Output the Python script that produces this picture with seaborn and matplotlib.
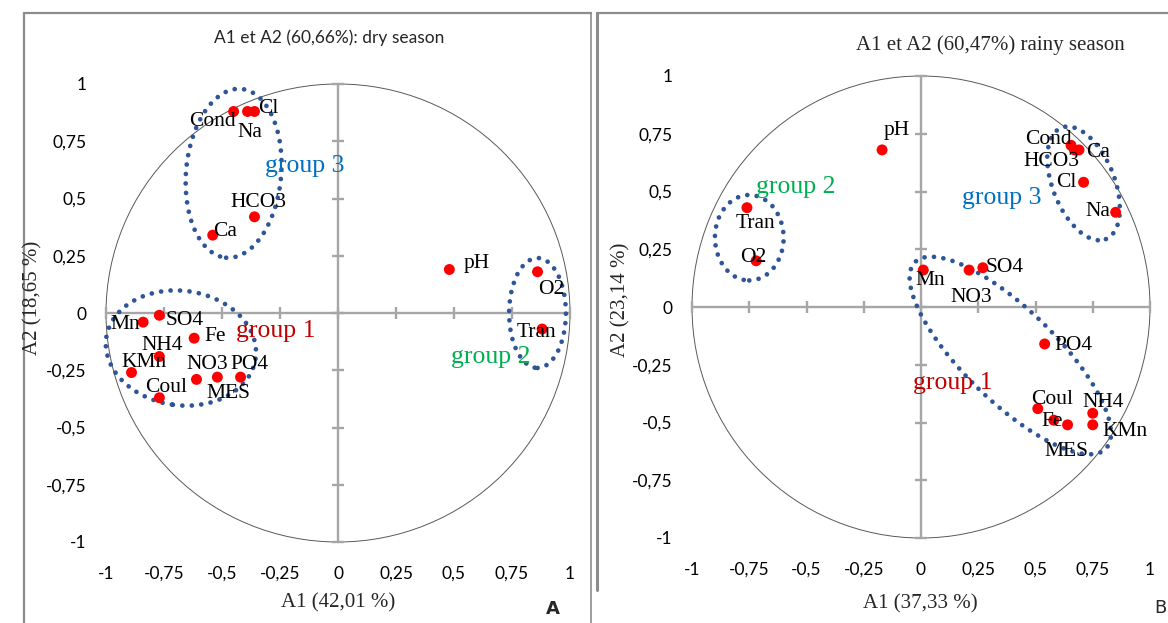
import matplotlib
matplotlib.use("Agg")
import matplotlib.pyplot as plt
import seaborn as sns
import pandas as pd
from matplotlib.patches import Circle, Ellipse
from matplotlib.lines import Line2D

# ---- correlation loadings on the first two factorial axes ----
dry_vars = ["Cond", "Na", "Cl", "HCO3", "Ca", "pH", "O2", "Tran", "Mn", "SO4",
            "Fe", "NH4", "KMn", "NO3", "MES", "PO4", "Coul"]
dry_a1 = [-0.45, -0.39, -0.36, -0.36, -0.54, 0.48, 0.86, 0.88, -0.84, -0.77,
          -0.62, -0.77, -0.89, -0.61, -0.52, -0.42, -0.77]
dry_a2 = [0.88, 0.88, 0.88, 0.42, 0.34, 0.19, 0.18, -0.07, -0.04, -0.01,
          -0.11, -0.19, -0.26, -0.29, -0.28, -0.28, -0.37]

rainy_vars = ["pH", "Cond", "HCO3", "Ca", "Cl", "Na", "Mn", "NO3", "SO4", "Tran",
              "O2", "PO4", "Coul", "NH4", "Fe", "KMn", "MES"]
rainy_a1 = [-0.17, 0.655, 0.67, 0.69, 0.71, 0.85, 0.01, 0.21, 0.27, -0.76,
            -0.72, 0.54, 0.51, 0.75, 0.58, 0.75, 0.64]
rainy_a2 = [0.68, 0.70, 0.68, 0.68, 0.54, 0.41, 0.16, 0.16, 0.17, 0.43,
            0.20, -0.16, -0.44, -0.46, -0.49, -0.51, -0.51]

tick_values = [-1, -0.75, -0.5, -0.25, 0, 0.25, 0.5, 0.75, 1]
tick_labels = ["-1", "-0,75", "-0,5", "-0,25", "0", "0,25", "0,5", "0,75", "1"]

group_names = ["group 1", "group 2", "group 3"]
group_colors = {"group 1": "#C00000", "group 2": "#00B050", "group 3": "#0070C0"}

# label offsets in pixels (dx to the right, dy downward)
dry_offsets = {
    "Cond": (-21, 10), "Na": (2, 21), "Cl": (14, -3), "HCO3": (4, -14),
    "Ca": (12, -4), "pH": (27, -6), "O2": (14, 18), "Tran": (-6, 3),
    "Mn": (-18, 2), "SO4": (25, 5), "Fe": (21, -2), "NH4": (3, -11),
    "KMn": (12, -10), "NO3": (11, -15), "MES": (11, 16), "PO4": (9, -13),
    "Coul": (7, -10),
}
rainy_offsets = {
    "pH": (15, -19), "Cond": (-23, -6), "HCO3": (-23, 12), "Ca": (19, 3),
    "Cl": (-17, 0), "Na": (-18, -1), "Mn": (7, 10), "NO3": (2, 27),
    "SO4": (22, 0), "Tran": (8, 16), "O2": (-3, -3), "PO4": (29, 2),
    "Coul": (14, -9), "NH4": (10, -11), "Fe": (-2, 1), "KMn": (32, 7),
    "MES": (-1, 27),
}

# group outlines: (center, width, height, angle) and label anchor
dry_groups = {
    "group 3": ((-0.45, 0.61), 0.41, 0.74, -5, (-0.315, 0.64)),
    "group 1": ((-0.677, -0.153), 0.65, 0.50, -8, (-0.44, -0.08)),
    "group 2": ((0.86, 0.0), 0.245, 0.48, 0, (0.487, -0.19)),
}
rainy_groups = {
    "group 2": ((-0.75, 0.30), 0.30, 0.37, 0, (-0.72, 0.52)),
    "group 3": ((0.71, 0.535), 0.27, 0.52, 22, (0.18, 0.47)),
    "group 1": ((0.39, -0.21), 1.16, 0.40, -44, (-0.035, -0.33)),
}

sns.set_theme(style="white")
plt.rcParams["font.family"] = ["Liberation Serif", "DejaVu Serif"]

W, H = 1168, 623
fig = plt.figure(figsize=(W / 100, H / 100), dpi=100)
fig.patch.set_facecolor("white")

AXIS_GREY = "#A6A6A6"
DOT_BLUE = "#2F5597"
TICK_FONT = dict(family=["Lato", "DejaVu Sans"], size=12.5, color="#000000")


def circle_plot(ax, names, a1, a2, offsets, groups):
    df = pd.DataFrame({"var": names, "A1": a1, "A2": a2})
    ax.set_xlim(-1, 1)
    ax.set_ylim(-1, 1)
    for s in ax.spines.values():
        s.set_visible(False)
    ax.set_facecolor("none")

    # correlation circle
    ax.add_patch(Circle((0, 0), 1, fill=False, ec="#595959", lw=0.7,
                        clip_on=False, zorder=1))
    # central axes with cross ticks
    zeros = [0] * len(tick_values)
    ax.plot(tick_values, zeros, color=AXIS_GREY, lw=1.7, marker="|", ms=9,
            mew=1.7, clip_on=False, zorder=2)
    ax.plot(zeros, tick_values, color=AXIS_GREY, lw=1.7, marker="_", ms=9,
            mew=1.7, clip_on=False, zorder=2)

    # group outlines (round dots)
    for g, (c, w, h, ang, lab) in groups.items():
        e = Ellipse(c, w, h, angle=ang, fill=False, ec=DOT_BLUE, lw=3.4,
                    linestyle=(0, (0.01, 2.0)), clip_on=False, zorder=3)
        e.set_capstyle("round")
        ax.add_patch(e)
        ax.text(lab[0], lab[1], g, color=group_colors[g], fontsize=18.5,
                ha="left", va="center", zorder=6)

    sns.scatterplot(data=df, x="A1", y="A2", ax=ax, color="#FF0000", s=62,
                    edgecolor="none", linewidth=0, legend=False, zorder=5,
                    clip_on=False)

    for _, r in df.iterrows():
        dx, dy = offsets[r["var"]]
        ax.annotate(r["var"], (r["A1"], r["A2"]), xytext=(dx, -dy),
                    textcoords="offset pixels", ha="center", va="center",
                    fontsize=15.5, color="black", zorder=6)

    ax.set_xticks(tick_values)
    ax.set_yticks(tick_values)
    ax.set_xticklabels(tick_labels, fontdict=TICK_FONT)
    ax.set_yticklabels(tick_labels, fontdict=TICK_FONT)
    ax.tick_params(axis="x", length=0, pad=17)
    ax.tick_params(axis="y", length=0, pad=14)
    ax.set_xlabel("")
    ax.set_ylabel("")
    ax.grid(False)


ax_dry = fig.add_axes([106 / W, 1 - 542 / H, 464 / W, 458 / H])
circle_plot(ax_dry, dry_vars, dry_a1, dry_a2, dry_offsets, dry_groups)

ax_rainy = fig.add_axes([692 / W, 1 - 538 / H, 458 / W, 462 / H])
circle_plot(ax_rainy, rainy_vars, rainy_a1, rainy_a2, rainy_offsets, rainy_groups)

# titles and axis labels
fig.text(329 / W, 1 - 38 / H, "A1 et A2 (60,66%): dry season",
         family=["Lato", "DejaVu Sans"], fontsize=12.5, ha="center", va="center")
fig.text(990 / W, 1 - 45 / H, "A1 et A2 (60,47%) rainy season",
         fontsize=15, ha="center", va="center")
fig.text(338 / W, 1 - 603 / H, "A1 (42,01 %)", fontsize=15,
         ha="center", va="center")
fig.text(920 / W, 1 - 604 / H, "A1 (37,33 %)", fontsize=15,
         ha="center", va="center")
fig.text(33 / W, 1 - 298 / H, "A2 (18,65 %)", fontsize=15, rotation=90,
         ha="center", va="center")
fig.text(621 / W, 1 - 300 / H, "A2 (23,14 %)", fontsize=15, rotation=90,
         ha="center", va="center")

# panel letters
fig.text(553 / W, 1 - 609 / H, "A", family=["DejaVu Sans"], fontsize=13,
         fontweight="bold", ha="center", va="center")
fig.text(1166 / W, 1 - 608 / H, "B", family=["DejaVu Sans"], fontsize=13,
         ha="right", va="center")

# panel frames
FRAME = "#8C8C8C"


def frame_line(xs, ys, lw=1.6):
    fig.add_artist(Line2D([x / W for x in xs], [1 - y / H for y in ys],
                          color=FRAME, lw=lw, transform=fig.transFigure))


frame_line([24, 24], [13, 623])
frame_line([24, 591], [13, 13])
frame_line([591, 591], [13, 623], lw=1.2)
frame_line([597, 597], [13, 590], lw=2.2)
frame_line([597, 1168], [13, 13])

fig.savefig("out.png", dpi=100, facecolor="white")
